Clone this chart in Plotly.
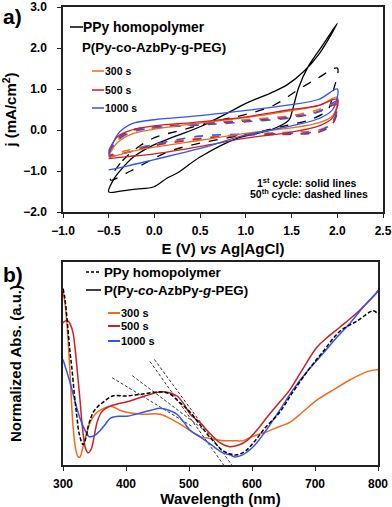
import plotly.graph_objects as go

# --- panel a: cyclic voltammograms (E in V, j in mA/cm2), closed loops ---
ppy_e_1 = [-0.5, -0.45, -0.37, -0.23, -0.05, 0.21, 0.5, 0.83, 1.0, 1.27, 1.45, 1.63, 1.8, 2.0,
           1.85, 1.68, 1.58, 1.51, 1.47, 1.27, 0.91, 0.5, 0.25, 0.14, -0.01, -0.2, -0.37, -0.5]
ppy_j_1 = [-1.51, -1.22, -0.98, -0.66, -0.41, -0.17, 0.08, 0.45, 0.65, 0.9, 1.1, 1.42, 1.85, 2.6,
           2.1, 1.54, 1.05, 0.49, 0.24, 0.0, -0.2, -0.66, -1.05, -1.17, -1.39, -1.44, -1.49, -1.51]
ppy_e_50 = [-0.48, -0.35, -0.05, 0.3, 0.72, 1.0, 1.31, 1.57, 1.79, 2.0,
            1.95, 1.9, 1.7, 1.46, 1.09, 0.5, 0.14, -0.26, -0.48]
ppy_j_50 = [-1.22, -0.75, -0.24, 0.0, 0.24, 0.38, 0.61, 0.98, 1.27, 1.51,
            0.9, 0.5, 0.25, 0.12, -0.07, -0.32, -0.54, -1.0, -1.22]

cv_e = [-0.5, -0.4, -0.25, 0.0, 0.5, 1.0, 1.5, 1.8, 2.0,
        1.95, 1.8, 1.5, 1.0, 0.5, 0.0, -0.3, -0.5]
s300_j_1 = [-0.62, -0.3, -0.1, 0.02, 0.17, 0.3, 0.47, 0.6, 0.8,
            0.35, 0.18, 0.05, -0.08, -0.25, -0.42, -0.55, -0.68]
s500_j_1 = [-0.5, -0.15, 0.0, 0.1, 0.2, 0.32, 0.5, 0.6, 0.75,
            0.3, 0.1, -0.05, -0.2, -0.4, -0.58, -0.65, -0.7]
s1000_j_1 = [-0.6, -0.1, 0.15, 0.25, 0.35, 0.48, 0.62, 0.75, 1.0,
             0.5, 0.28, 0.1, -0.12, -0.45, -0.72, -0.88, -0.97]
s300_j_50 = [-0.6, -0.25, -0.02, 0.05, 0.15, 0.25, 0.35, 0.5, 0.65,
             0.2, 0.0, -0.05, -0.1, -0.2, -0.35, -0.5, -0.62]
s500_j_50 = [-0.55, -0.2, 0.0, 0.08, 0.15, 0.22, 0.32, 0.45, 0.62,
             0.15, -0.05, -0.1, -0.12, -0.22, -0.38, -0.55, -0.62]
s1000_j_50 = [-0.55, -0.25, -0.05, 0.05, 0.12, 0.2, 0.3, 0.45, 0.7,
              0.2, -0.02, -0.08, -0.1, -0.15, -0.35, -0.55, -0.65]

# --- panel b: normalized UV-vis spectra ---
wl_300 = [300, 303, 308, 312, 316, 320, 324, 327, 331, 337, 343, 351, 359, 375, 390, 401, 427, 454,
          481, 502, 517, 535, 554, 570, 586, 600, 620, 644, 660, 680, 703, 729, 756, 783, 800]
abs_300 = [0.85, 0.8, 0.62, 0.4, 0.19, 0.08, 0.04, 0.04, 0.08, 0.15, 0.21, 0.25, 0.27, 0.29, 0.27,
           0.26, 0.25, 0.25, 0.21, 0.17, 0.14, 0.13, 0.12, 0.12, 0.12, 0.14, 0.16, 0.19, 0.21, 0.26,
           0.32, 0.37, 0.42, 0.46, 0.47]
wl_500 = [300, 304, 308, 312, 316, 320, 324, 327, 331, 336, 340, 345, 350, 354, 359, 364, 375, 386,
          400, 411, 430, 454, 470, 481, 492, 502, 517, 535, 549, 565, 580, 592, 610, 625, 644, 660,
          680, 703, 720, 740, 770, 798, 800]
abs_500 = [0.70, 0.71, 0.71, 0.69, 0.65, 0.55, 0.42, 0.32, 0.18, 0.08, 0.06, 0.08, 0.15, 0.21, 0.25,
           0.27, 0.29, 0.30, 0.31, 0.32, 0.34, 0.36, 0.355, 0.34, 0.3, 0.25, 0.21, 0.15, 0.11, 0.09,
           0.1, 0.12, 0.18, 0.24, 0.31, 0.37, 0.47, 0.58, 0.63, 0.68, 0.76, 0.85, 0.86]
wl_1000 = [300, 305, 310, 316, 322, 327, 332, 337, 341, 346, 352, 359, 367, 375, 388, 401, 415, 427,
           440, 454, 468, 481, 492, 502, 517, 535, 554, 565, 573, 585, 602, 620, 644, 665, 690, 713,
           735, 756, 780, 798, 800]
abs_1000 = [0.52, 0.47, 0.42, 0.35, 0.28, 0.23, 0.19, 0.16, 0.14, 0.14, 0.15, 0.17, 0.2, 0.23, 0.24,
            0.24, 0.25, 0.26, 0.27, 0.28, 0.27, 0.25, 0.21, 0.17, 0.14, 0.1, 0.06, 0.05, 0.04, 0.05,
            0.09, 0.16, 0.27, 0.37, 0.47, 0.55, 0.63, 0.7, 0.79, 0.85, 0.86]
wl_ppy = [300, 303, 307, 311, 314, 318, 322, 326, 332, 336, 340, 344, 348, 356, 364, 379, 401, 427,
          454, 470, 481, 492, 502, 517, 535, 554, 565, 576, 590, 605, 620, 644, 665, 690, 713, 740,
          767, 792, 798]
abs_ppy = [0.87, 0.82, 0.7, 0.56, 0.48, 0.35, 0.24, 0.15, 0.1, 0.13, 0.19, 0.23, 0.26, 0.29, 0.31,
           0.34, 0.34, 0.35, 0.36, 0.35, 0.32, 0.29, 0.26, 0.2, 0.13, 0.07, 0.055, 0.05, 0.07, 0.12,
           0.18, 0.26, 0.36, 0.47, 0.56, 0.66, 0.71, 0.76, 0.75]
# band-edge tangent lines (start/end)
tangent_wl = [[378, 505], [410, 525], [438, 555], [445, 568]]
tangent_abs = [[0.43, 0.19], [0.44, 0.17], [0.51, 0.0], [0.52, 0.0]]

ORANGE = "#F26B1D"
RED = "#CC1F26"
BLUE = "#3355EE"
FONT = "Liberation Sans"

fig = go.Figure()

def cv(e, j, color, dash, width=1.3):
    fig.add_trace(go.Scatter(x=e, y=j, mode="lines", line=dict(color=color, width=width, dash=dash),
                             line_shape="spline", xaxis="x", yaxis="y", showlegend=False))

cv(ppy_e_1, ppy_j_1, "black", "solid")
cv(ppy_e_50, ppy_j_50, "black", "dash")
for jj, c in [(s300_j_50, ORANGE), (s500_j_50, RED), (s1000_j_50, BLUE)]:
    cv(cv_e, jj, c, "dash", 1.6)
for jj, c in [(s300_j_1, ORANGE), (s500_j_1, RED), (s1000_j_1, BLUE)]:
    cv(cv_e, jj, c, "solid")

for tx, ty in zip(tangent_wl, tangent_abs):
    fig.add_trace(go.Scatter(x=tx, y=ty, mode="lines", line=dict(color="black", width=0.8, dash="3px,2px"),
                             xaxis="x2", yaxis="y2", showlegend=False))
for wl, ab, c, d in [(wl_300, abs_300, ORANGE, "solid"), (wl_500, abs_500, RED, "solid"),
                     (wl_1000, abs_1000, BLUE, "solid"), (wl_ppy, abs_ppy, "black", "4px,2px")]:
    fig.add_trace(go.Scatter(x=wl, y=ab, mode="lines", line=dict(color=c, width=1.5, dash=d),
                             line_shape="spline", xaxis="x2", yaxis="y2", showlegend=False))

W, H = 392, 507
def px(x):
    return x / W
def py(y):
    return 1 - y / H

tick_font = dict(family=FONT, size=12, color="black", weight="bold")
title_font = dict(family=FONT, size=15, color="black", weight="bold")
axis_common = dict(showline=True, linecolor="#222", linewidth=1.5, mirror=True, automargin=False,
                   ticklen=4, tickwidth=1.2, tickcolor="#222", showgrid=False, zeroline=False,
                   tickfont=tick_font)

fig.update_layout(
    width=W, height=H, margin=dict(l=0, r=0, t=0, b=0),
    paper_bgcolor="white", plot_bgcolor="white",
    xaxis=dict(domain=[px(63), px(383)], range=[-1.0, 2.5], dtick=0.5, tickformat=".1f",
               anchor="y", ticks="outside", ticklabelstandoff=3,
               title=dict(text="E (V) <i>vs</i> Ag|AgCl)", font=title_font, standoff=6),
               **axis_common),
    yaxis=dict(domain=[py(212), py(7)], range=[-2.0, 3.0], dtick=1.0, tickformat=".1f",
               anchor="x", ticks="outside", ticklabelstandoff=8,
               title=dict(text="j (mA/cm<sup>2</sup>)", font=title_font, standoff=8),
               **axis_common),
    xaxis2=dict(domain=[px(63), px(378)], range=[300, 800], dtick=100, anchor="y2",
                ticks="outside", ticklabelstandoff=3,
                title=dict(text="Wavelength (nm)", font=title_font, standoff=6), **axis_common),
    yaxis2=dict(domain=[py(465), py(262)], range=[0, 1], anchor="x2", showticklabels=False, ticks="",
                title=dict(text="Normalized Abs. (a.u.)", font=title_font, standoff=36),
                **axis_common),
)

def label(x, y, text, size, xanchor="left"):
    fig.add_annotation(xref="paper", yref="paper", x=px(x), y=py(y), text=text, showarrow=False,
                       xanchor=xanchor, yanchor="middle", borderpad=0,
                       font=dict(family=FONT, size=size, color="black", weight="bold"))

def swatch(x0, x1, y, color, dash="solid", width=1.5):
    fig.add_shape(type="line", xref="paper", yref="paper", x0=px(x0), x1=px(x1), y0=py(y), y1=py(y),
                  line=dict(color=color, width=width, dash=dash))

# panel labels
label(2, 17, "a)", 21)
label(2, 274, "b)", 21)

# panel a legend
swatch(70, 83, 27, "black")
label(82, 27, "PPy homopolymer", 13.8)
label(81, 47, "P(Py-co-AzbPy-g-PEG)", 13.3)
for yy, c, t in [(71, ORANGE, "300 s"), (90, RED, "500 s"), (108, BLUE, "1000 s")]:
    swatch(92, 104, yy, c)
    label(104, yy, t, 10.5)
label(306, 182, "1<sup>st</sup> cycle: solid lines", 10.5, "center")
label(309, 194, "50<sup>th</sup> cycle: dashed lines", 10.5, "center")

# panel b legend
swatch(86, 101, 272, "black", "3px,2px")
label(103, 272, "PPy homopolymer", 13.3)
swatch(86, 101, 290, "black")
label(103, 290, "P(Py-<i>co</i>-AzbPy-<i>g</i>-PEG)", 13.3)
for yy, c, t in [(313, ORANGE, "300 s"), (326, RED, "500 s"), (341, BLUE, "1000 s")]:
    swatch(108, 120, yy, c, width=2)
    label(120, yy, t, 11)

fig.write_html("out.html", config={"displayModeBar": False},
               post_script="document.body.style.margin='0';")
